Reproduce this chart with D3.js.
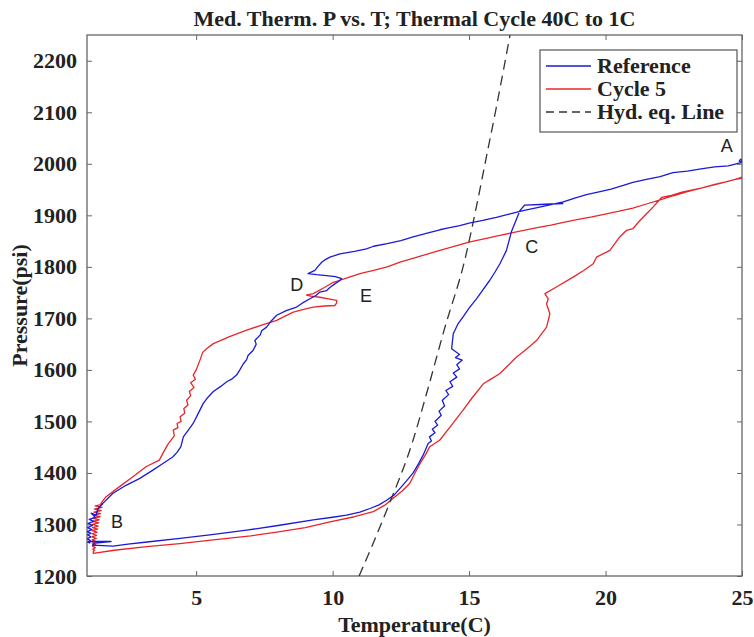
<!DOCTYPE html>
<html><head><meta charset="utf-8">
<script src="https://cdn.jsdelivr.net/npm/d3@7"></script>
<style>
html,body{margin:0;padding:0;background:#fff;}
svg{display:block;}
text{font-family:"Liberation Serif","Times New Roman",serif;font-weight:bold;fill:#222;}
.ann{font-family:"Liberation Sans",Arial,sans-serif;font-weight:normal;}
</style></head><body>
<svg id="chart" width="754" height="637"></svg>
<script>
const titleText = "Med. Therm. P vs. T; Thermal Cycle 40C to 1C";
const xLabel = "Temperature(C)";
const yLabel = "Pressure(psi)";
const xTicks = [5, 10, 15, 20, 25];
const yTicks = [1200, 1300, 1400, 1500, 1600, 1700, 1800, 1900, 2000, 2100, 2200];
const seriesNames = ["Reference", "Cycle 5", "Hyd. eq. Line"];

// Reference (blue): [T, P]
const referenceData = [
 [25.0,2006],[24.95,2009],[24.9,2005],[25.0,2003],[24.5,1996],[24.0,1994],[23.5,1990],[23.0,1986],[22.47,1983],[22.0,1975],
 [21.5,1970],[21.0,1964],[20.65,1958],[20.2,1951],[19.8,1946],[19.3,1940],[18.9,1934],[18.45,1926],[18.0,1921],[17.5,1915],
 [16.98,1909],[16.5,1903],[16.0,1896],[15.5,1890],[15.0,1885],[14.66,1880],[14.2,1875],[13.93,1872],[13.5,1866],[12.95,1858],
 [12.5,1851],[12.0,1845],[11.5,1840],[11.24,1835],[10.8,1830],[10.27,1825],[9.9,1819],[9.7,1813],[9.6,1809],[9.45,1800],
 [9.35,1793],[9.1,1787],[9.4,1785],[9.78,1783],[10.1,1781],[10.33,1777],[10.2,1771],[10.08,1767],[9.9,1760],[9.78,1754],
 [9.53,1751],[9.4,1745],[9.17,1738],[8.9,1730],[8.68,1722],[8.3,1715],[7.95,1706],[7.75,1695],[7.58,1683],[7.4,1676],
 [7.35,1668],[7.15,1657],[7.2,1650],[7.09,1638],[6.9,1628],[6.85,1620],[6.73,1612],[6.6,1600],[6.48,1590],[6.3,1582],
 [6.12,1577],[5.9,1568],[5.63,1558],[5.45,1548],[5.26,1535],[5.1,1518],[4.89,1496],[4.7,1482],[4.53,1470],[4.44,1451],
 [4.3,1440],[4.14,1431],[3.77,1418],[3.4,1405],[2.92,1389],[2.43,1376],[1.94,1360],[1.58,1341],[1.4,1330],[1.33,1318],
 [1.15,1322],[1.3,1314],[1.08,1310],[1.25,1306],[1.04,1302],[1.2,1298],[1.02,1294],[1.18,1290],[1.0,1286],[1.15,1283],
 [1.02,1280],[1.14,1276],[1.0,1272],[1.12,1269],[1.02,1266],[1.1,1264],[1.1,1267],[1.88,1267],
 [1.3,1264],[1.2,1260],[1.96,1258],[2.5,1262],[3.2,1266],[4.41,1273],[5.5,1280],[6.85,1289],[8.0,1298],[9.29,1309],
 [10.0,1314],[10.51,1318],[11.0,1324],[11.37,1331],[11.7,1338],[11.98,1347],[12.25,1357],[12.47,1370],[12.7,1384],[12.95,1400],
 [13.15,1418],[13.32,1435],[13.5,1457],[13.62,1462],[13.55,1470],[13.75,1478],[13.65,1485],[13.85,1493],[13.75,1500],[13.98,1512],
 [13.9,1520],[14.1,1530],[14.02,1541],[14.25,1552],[14.15,1560],[14.4,1568],[14.3,1577],[14.55,1586],[14.42,1594],[14.65,1602],
 [14.55,1610],[14.75,1619],[14.5,1624],[14.65,1630],[14.36,1641],[14.42,1670],[14.6,1690],[14.78,1703],[15.0,1720],[15.27,1738],
 [15.5,1755],[15.76,1774],[15.95,1790],[16.13,1806],[16.37,1832],[16.55,1868],[16.86,1909],[17.04,1920],[17.6,1921],[18.0,1922],
 [18.45,1923]
];

// Cycle 5 (red): [T, P]
const cycle5Data = [
 [25.0,1972],[24.76,1970],[24.4,1965],[24.0,1960],[23.5,1953],[23.0,1946],[22.48,1938],[22.0,1930],[21.5,1922],[21.0,1914],
 [20.5,1908],[20.03,1903],[19.5,1897],[19.0,1892],[18.5,1887],[18.0,1881],[17.59,1877],[17.0,1871],[16.13,1861],[15.0,1848],
 [13.93,1832],[12.47,1809],[12.0,1800],[11.5,1793],[11.0,1787],[10.5,1778],[10.27,1774],[10.02,1770],[9.7,1760],[9.29,1748],
 [9.04,1745],[9.2,1743],[9.53,1741],[9.85,1738],[10.15,1735],[10.15,1730],[10.08,1725],[9.7,1724],[9.29,1722],[8.9,1717],
 [8.56,1712],[8.2,1703],[7.95,1696],[7.4,1687],[6.85,1677],[6.2,1664],[5.63,1651],[5.38,1641],[5.24,1634],[5.14,1619],
 [5.0,1600],[4.89,1590],[4.97,1582],[4.8,1575],[4.92,1566],[4.75,1558],[4.8,1550],[4.65,1541],[4.7,1532],[4.55,1525],
 [4.58,1516],[4.41,1509],[4.45,1500],[4.3,1496],[4.33,1488],[4.16,1483],[4.2,1472],[3.98,1457],[3.8,1440],[3.65,1425],
 [3.16,1412],[2.67,1392],[2.18,1373],[1.7,1354],[1.51,1341],[1.57,1339],[1.3,1336],[1.55,1333],[1.27,1330],[1.52,1327],
 [1.25,1324],[1.5,1321],[1.24,1318],[1.48,1315],[1.22,1312],[1.45,1309],[1.21,1306],[1.43,1303],[1.2,1300],[1.41,1297],
 [1.2,1294],[1.39,1291],[1.19,1288],[1.37,1285],[1.19,1282],[1.35,1279],[1.18,1276],[1.34,1273],[1.19,1270],[1.33,1267],
 [1.19,1264],[1.32,1261],[1.2,1258],[1.3,1255],[1.21,1252],[1.28,1250],[1.23,1248],[1.23,1244],
 [2.0,1250],[3.19,1257],[4.4,1263],[5.63,1270],[7.0,1278],[8.07,1286],[9.0,1294],[9.9,1305],
 [10.8,1315],[11.49,1325],[11.9,1337],[12.22,1351],[12.55,1365],[12.83,1380],[13.0,1398],[13.2,1418],[13.4,1435],[13.56,1451],
 [13.93,1464],[14.3,1489],[14.78,1522],[15.1,1545],[15.52,1573],[15.8,1582],[16.13,1593],[16.4,1607],[16.74,1625],[17.1,1640],
 [17.47,1657],[17.84,1683],[17.96,1709],[17.84,1728],[17.9,1738],[17.78,1748],[18.2,1761],[18.81,1780],[19.2,1793],[19.55,1806],
 [19.67,1819],[20.16,1832],[20.52,1858],[20.77,1871],[21.0,1874],[21.26,1890],[21.5,1903],[21.74,1916],[22.06,1935],[22.36,1938],
 [22.8,1945],[23.5,1953],[24.2,1962],[24.76,1970],[25.0,1974]
];

// Hydrate equilibrium line: [T, P]
const hydData = [
 [10.97,1200],[12.0,1330],[12.95,1464],[13.41,1548],[14.1,1680],[14.85,1815],[15.3,1925],[15.64,2015],[16.0,2110],[16.5,2250]
];

const annotations = [
 {t:"A", x:24.44, y:2022},
 {t:"B", x:2.1, y:1293},
 {t:"C", x:17.3, y:1826},
 {t:"D", x:8.69, y:1754},
 {t:"E", x:11.22, y:1731}
];

const svg = d3.select("#chart");
const L = 87, R = 742, T = 35, B = 576;
const x = d3.scaleLinear().domain([1, 25]).range([L, R]);
const y = d3.scaleLinear().domain([1200, 2250]).range([B, T]);

svg.append("defs").append("clipPath").attr("id","clip")
  .append("rect").attr("x",L).attr("y",T).attr("width",R-L).attr("height",B-T);

const frameColor = "#666";
const fmt = d3.format("d");

// axes
const gx = svg.append("g").attr("transform",`translate(0,${B})`)
  .call(d3.axisBottom(x).tickValues(xTicks).tickFormat(fmt).tickSizeInner(-5).tickSizeOuter(0).tickPadding(13));
const gxt = svg.append("g").attr("transform",`translate(0,${T})`)
  .call(d3.axisTop(x).tickValues(xTicks).tickSizeInner(-5).tickSizeOuter(0).tickFormat(""));
const gy = svg.append("g").attr("transform",`translate(${L},0)`)
  .call(d3.axisLeft(y).tickValues(yTicks).tickFormat(fmt).tickSizeInner(-5).tickSizeOuter(0).tickPadding(10));
const gyr = svg.append("g").attr("transform",`translate(${R},0)`)
  .call(d3.axisRight(y).tickValues(yTicks).tickSizeInner(-5).tickSizeOuter(0).tickFormat(""));
[gx,gxt,gy,gyr].forEach(g=>{
  g.select(".domain").remove();
  g.selectAll("line").attr("stroke",frameColor).attr("stroke-width",1);
  g.selectAll("text").attr("font-family","Liberation Serif, serif").attr("font-weight","bold")
    .attr("font-size",22).attr("fill","#222");
});

svg.append("rect").attr("x",L).attr("y",T).attr("width",R-L).attr("height",B-T)
  .attr("fill","none").attr("stroke",frameColor).attr("stroke-width",1.3);

const line = d3.line().x(d=>x(d[0])).y(d=>y(d[1]));
const plot = svg.append("g").attr("clip-path","url(#clip)");
plot.append("path").datum(cycle5Data).attr("d",line).attr("fill","none")
  .attr("stroke","#e8262a").attr("stroke-width",1.3).attr("stroke-linejoin","round");
plot.append("path").datum(referenceData).attr("d",line).attr("fill","none")
  .attr("stroke","#1a1ad8").attr("stroke-width",1.3).attr("stroke-linejoin","round");
plot.append("path").datum(hydData).attr("d",line.curve(d3.curveMonotoneX)).attr("fill","none")
  .attr("stroke","#333").attr("stroke-width",1.3).attr("stroke-dasharray","10,6");

// annotations
svg.selectAll(".ann").data(annotations).join("text").attr("class","ann")
  .attr("x",d=>x(d.x)).attr("y",d=>y(d.y)).attr("text-anchor","middle")
  .attr("font-size",18).text(d=>d.t);

// title & labels
svg.append("text").attr("x",(L+R)/2).attr("y",26).attr("text-anchor","middle")
  .attr("font-size",22).text(titleText);
svg.append("text").attr("x",(L+R)/2).attr("y",632).attr("text-anchor","middle")
  .attr("font-size",22).text(xLabel);
svg.append("text").attr("transform",`translate(27,${(T+B)/2}) rotate(-90)`).attr("text-anchor","middle")
  .attr("font-size",22).text(yLabel);

// legend
const lg = svg.append("g");
lg.append("rect").attr("x",540).attr("y",50).attr("width",197).attr("height",82)
  .attr("fill","#fff").attr("stroke","#555").attr("stroke-width",1.2);
const lgColors = ["#1a1ad8","#e8262a","#333"];
const lgDash = [null,null,"8,5"];
seriesNames.forEach((n,i)=>{
  const yy = 66 + i*23;
  lg.append("line").attr("x1",546).attr("x2",591).attr("y1",yy).attr("y2",yy)
    .attr("stroke",lgColors[i]).attr("stroke-width",1.3).attr("stroke-dasharray",lgDash[i]);
  lg.append("text").attr("x",597).attr("y",yy+7).attr("font-size",22).text(n);
});
</script>
</body></html>
